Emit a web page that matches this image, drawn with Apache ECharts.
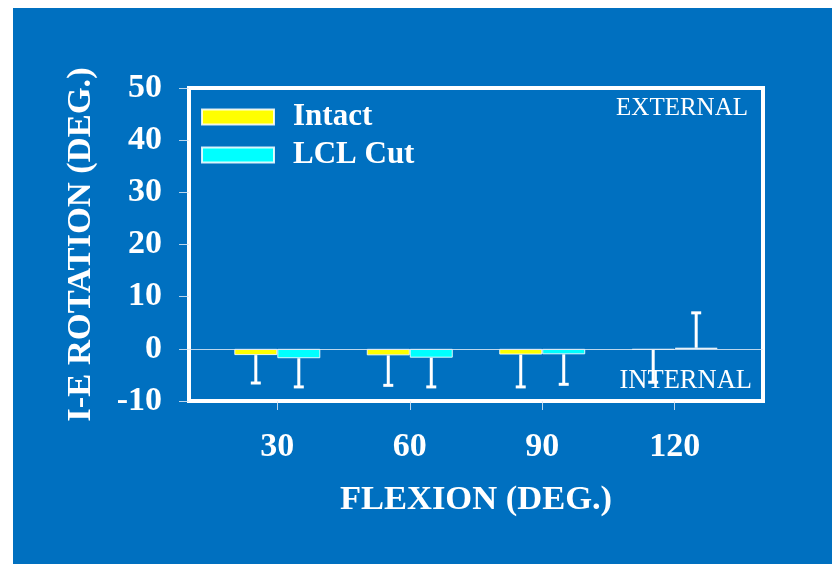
<!DOCTYPE html>
<html>
<head>
<meta charset="utf-8">
<script src="https://cdn.jsdelivr.net/npm/echarts@6/dist/echarts.min.js"></script>
<style>
  html, body { margin: 0; padding: 0; background: #ffffff; }
  #wrap { position: relative; width: 832px; height: 564px; background: #ffffff; overflow: hidden; }
  #bg { position: absolute; left: 13px; top: 8px; width: 819px; height: 556px; background: #0070c0; }
  #chart { position: absolute; left: 0; top: 0; width: 832px; height: 564px; }
</style>
</head>
<body>
<div id="wrap"><div id="bg"></div><div id="chart"></div></div>
<script>
// ---- data ----
const flexion = [30, 60, 90, 120];
const intactMean = [-1.2, -1.25, -1.1, -0.2];
const intactSD = [5.35, 5.75, 6.2, 6.2];
const lclMean = [-1.8, -1.7, -1.05, 0.2];
const lclSD = [5.5, 5.6, 5.75, 6.7];
const seriesNames = ['Intact', 'LCL Cut'];
const yMin = -10, yMax = 50, yStep = 10;
const xMin = 10, xMax = 140;

// ---- style constants ----
const FONT = '"Liberation Serif", "Times New Roman", serif';
const BAR_W = 43;
const lightLine = 'rgba(220,232,245,0.85)';

function pairs(means, sds) {
  return flexion.map((x, i) => [x, means[i], sds[i]]);
}

function errRender(offset) {
  return function (params, api) {
    const x = api.value(0), m = api.value(1), sd = api.value(2);
    const dir = m >= 0 ? 1 : -1;
    const p0 = api.coord([x, m]);
    const p1 = api.coord([x, m + dir * sd]);
    const cx = p0[0] + offset;
    const st = { stroke: '#ffffff', lineWidth: 3 };
    return {
      type: 'group',
      children: [
        { type: 'line', shape: { x1: cx, y1: p0[1], x2: cx, y2: p1[1] }, style: st },
        { type: 'line', shape: { x1: cx - 5, y1: p1[1], x2: cx + 5, y2: p1[1] }, style: st }
      ]
    };
  };
}

const chart = echarts.init(document.getElementById('chart'), null, { renderer: 'canvas' });
chart.setOption({
  backgroundColor: 'transparent',
  animation: false,
  textStyle: { fontFamily: FONT },
  grid: {
    left: 189, top: 88, width: 574, height: 313,
    show: true, borderColor: '#ffffff', borderWidth: 4, backgroundColor: 'transparent'
  },
  legend: {
    orient: 'vertical', left: 201, top: 100, padding: 0,
    itemWidth: 72, itemHeight: 15, itemGap: 4,
    icon: 'rect',
    data: seriesNames,
    textStyle: { color: '#ffffff', fontSize: 31, fontWeight: 'bold', fontFamily: FONT, lineHeight: 34, padding: [0, 0, 0, 14] }
  },
  xAxis: {
    type: 'value', min: xMin, max: xMax,
    name: 'FLEXION (DEG.)', nameLocation: 'middle', nameGap: 82,
    nameTextStyle: { color: '#ffffff', fontSize: 34.5, fontWeight: 'bold', fontFamily: FONT },
    axisLine: { show: false, onZero: false },
    axisTick: { show: true, length: 9, customValues: flexion, lineStyle: { color: lightLine, width: 1 } },
    axisLabel: { customValues: flexion, color: '#ffffff', fontSize: 34, fontWeight: 'bold', fontFamily: FONT, margin: 29 },
    splitLine: { show: false }
  },
  yAxis: {
    type: 'value', min: yMin, max: yMax, interval: yStep,
    name: 'I-E ROTATION (DEG.)', nameLocation: 'middle', nameGap: 90,
    nameTextStyle: { color: '#ffffff', fontSize: 34.5, fontWeight: 'bold', fontFamily: FONT },
    axisLine: { show: false },
    axisTick: { show: true, length: 10, lineStyle: { color: lightLine, width: 1 } },
    axisLabel: { color: '#ffffff', fontSize: 34, fontWeight: 'bold', fontFamily: FONT, margin: 27 },
    splitLine: { show: false }
  },
  graphic: [
    { type: 'text', right: 832 - 748, top: 96, z: 10,
      style: { text: 'EXTERNAL', fill: '#ffffff', font: '25px ' + FONT } },
    { type: 'text', right: 832 - 752, top: 368, z: 10,
      style: { text: 'INTERNAL', fill: '#ffffff', font: '26.5px ' + FONT } }
  ],
  series: [
    {
      name: 'Intact', type: 'bar', barWidth: BAR_W, barGap: '0%',
      data: intactMean.map((v, i) => [flexion[i], v]),
      itemStyle: { color: '#ffff00', borderColor: 'rgba(255,255,255,0.85)', borderWidth: 1 },
      markLine: {
        silent: true, symbol: 'none', label: { show: false },
        lineStyle: { color: lightLine, width: 1, type: 'solid' },
        data: [{ yAxis: 0 }]
      }
    },
    {
      name: 'LCL Cut', type: 'bar', barWidth: BAR_W, barGap: '0%',
      data: lclMean.map((v, i) => [flexion[i], v]),
      itemStyle: { color: '#00ffff', borderColor: 'rgba(255,255,255,0.85)', borderWidth: 1 }
    },
    {
      name: 'Intact SD', type: 'custom', z: 5,
      renderItem: errRender(-BAR_W / 2),
      data: pairs(intactMean, intactSD)
    },
    {
      name: 'LCL SD', type: 'custom', z: 5,
      renderItem: errRender(BAR_W / 2),
      data: pairs(lclMean, lclSD)
    }
  ]
});
</script>
</body>
</html>
